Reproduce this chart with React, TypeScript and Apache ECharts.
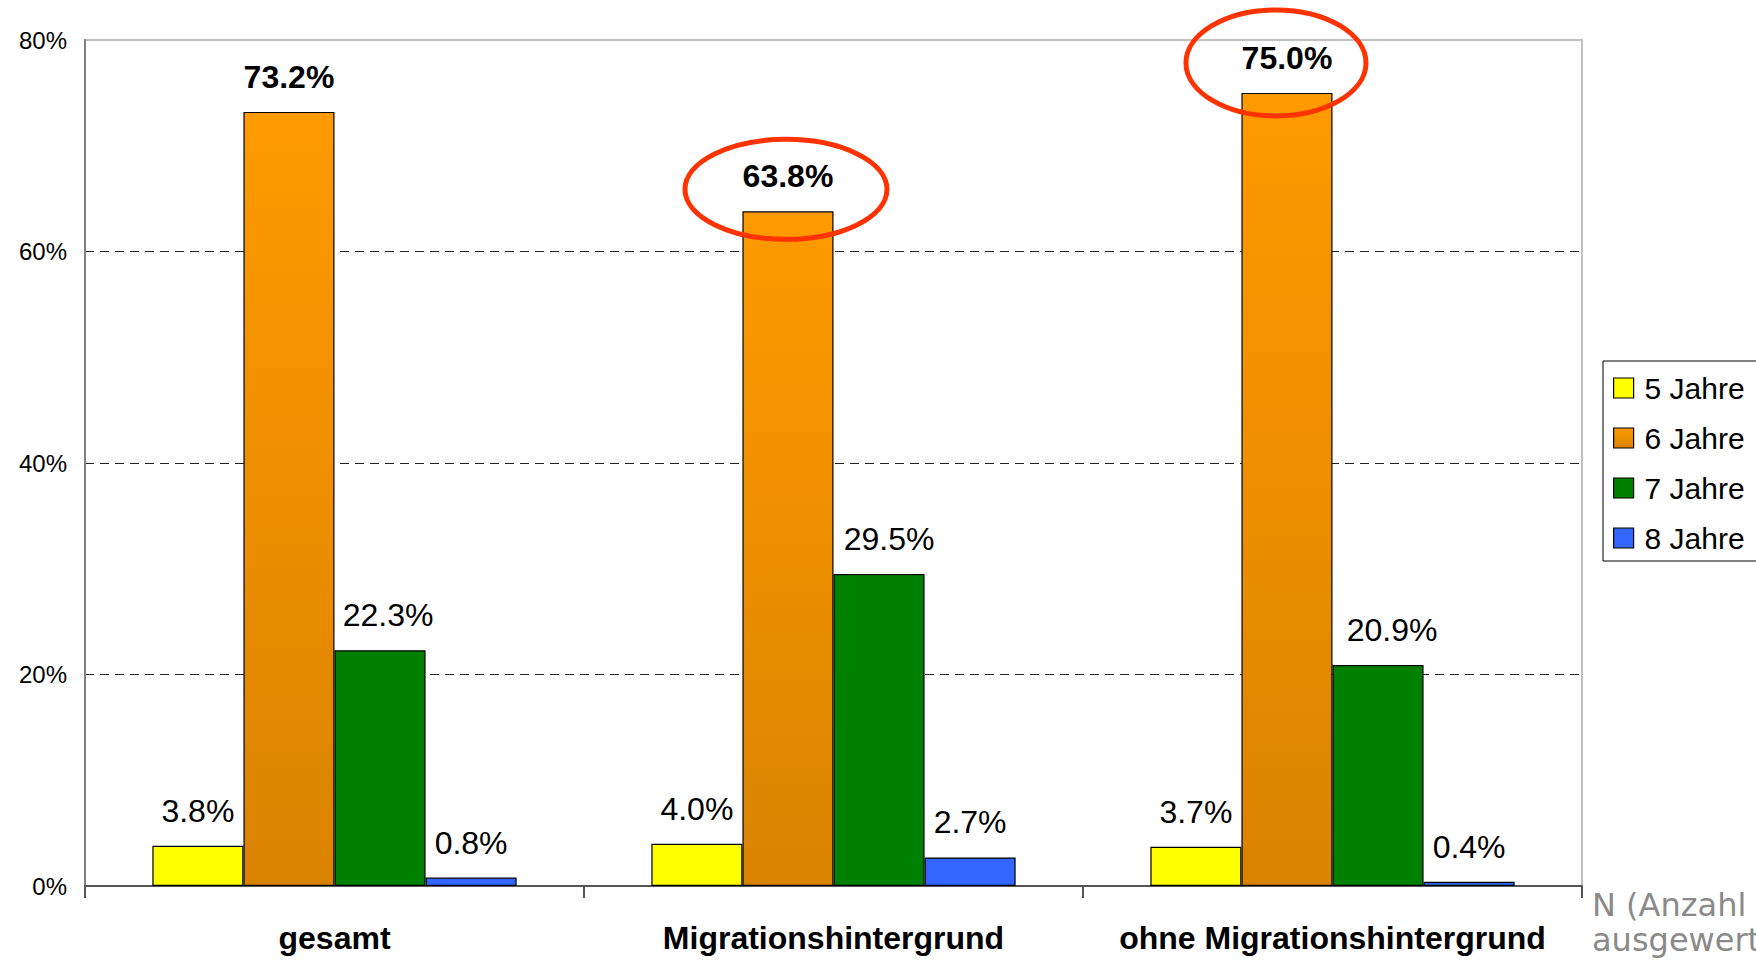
import React, { useEffect, useRef } from "react";
import * as echarts from "echarts";

const categories = ["gesamt", "Migrationshintergrund", "ohne Migrationshintergrund"];
const seriesNames = ["5 Jahre", "6 Jahre", "7 Jahre", "8 Jahre"];
const values5 = [3.8, 4.0, 3.7];
const values6 = [73.2, 63.8, 75.0];
const values7 = [22.3, 29.5, 20.9];
const values8 = [0.8, 2.7, 0.4];
const yMin = 0;
const yMax = 80;
const yStep = 20;
const noteText = "N (Anzahl\nausgewert";
// highlighted bars: [category index, series index]
const highlights = [
  { category: 1, series: 1 },
  { category: 2, series: 1 },
];

// label horizontal shifts per series (pixels), as in the original slide
const labelShifts = [
  [0, 0, 0],
  [0, 0, 0],
  [8, 10, 14],
  [0, 0, 0],
];

// annotation ellipse styling (offsets relative to the bar top)
const ellipseStyles = [
  { dx: -2, dy: -22, rx: 101, ry: 50 },
  { dx: -11, dy: -30, rx: 90, ry: 53 },
];

const FONT = "'Liberation Sans', Arial, sans-serif";
const GAP = 0.27;

export default function App() {
  const ref = useRef<HTMLDivElement>(null);

  useEffect(() => {
    document.body.style.margin = "0";
    if (!ref.current) return;
    const chart = echarts.init(ref.current, undefined, { renderer: "svg" });
    const allValues = [values5, values6, values7, values8];
    const orange = new echarts.graphic.LinearGradient(0, 0, 0, 1, [
      { offset: 0, color: "#ff9a00" },
      { offset: 1, color: "#da8300" },
    ]);
    const colors: any[] = ["#ffff00", orange, "#008000", "#3366ff"];

    const series = seriesNames.map((name, i) => ({
      name,
      type: "bar",
      data: allValues[i].map((v, j) => ({
        value: v,
        label: { offset: [labelShifts[i][j], 0] },
      })),
      barGap: "0%",
      barCategoryGap: GAP * 100 + "%",
      itemStyle: { color: colors[i], borderColor: "#000", borderWidth: 1.2 },
      label: {
        show: true,
        position: "top",
        distance: 19,
        fontFamily: FONT,
        fontSize: 32,
        fontWeight: i === 1 ? "bold" : "normal",
        color: "#000",
        formatter: (p: any) => Number(p.value).toFixed(1) + "%",
      },
      emphasis: { disabled: true },
    }));

    const gridLeft = 85;
    const gridRight = 174;
    chart.setOption({
      animation: false,
      grid: {
        left: gridLeft,
        right: gridRight,
        top: 40,
        bottom: 74,
        show: true,
        borderColor: "#c0c0c0",
        borderWidth: 2,
        backgroundColor: "#fff",
      },
      legend: {
        orient: "vertical",
        left: 1603,
        top: 361,
        itemWidth: 20,
        itemHeight: 20,
        itemGap: 20,
        padding: [12, 30, 8, 10],
        borderColor: "#000",
        borderWidth: 1,
        backgroundColor: "#fff",
        icon: "rect",
        itemStyle: { borderColor: "#000", borderWidth: 1.2 },
        textStyle: {
          fontFamily: FONT,
          fontSize: 30,
          color: "#000",
          padding: [0, 0, 0, 6],
        },
        data: seriesNames,
      },
      xAxis: {
        type: "category",
        data: categories,
        axisLine: { show: true, lineStyle: { color: "#555", width: 2 } },
        axisTick: { show: true, length: 12, lineStyle: { color: "#555", width: 2 } },
        axisLabel: {
          fontFamily: FONT,
          fontSize: 32,
          fontWeight: "bold",
          color: "#000",
          margin: 36,
          interval: 0,
        },
        splitLine: { show: false },
      },
      yAxis: {
        type: "value",
        min: yMin,
        max: yMax,
        interval: yStep,
        axisLine: { show: true, lineStyle: { color: "#808080", width: 2 } },
        axisTick: { show: false },
        axisLabel: {
          fontFamily: FONT,
          fontSize: 24,
          color: "#000",
          margin: 18,
          formatter: "{value}%",
        },
        splitLine: {
          show: true,
          lineStyle: {
            color: ["rgba(0,0,0,0)", "#222", "#222", "#222", "rgba(0,0,0,0)"],
            type: [9, 6],
            width: 1,
          },
        },
      },
      series,
    });

    const plotWidth = 1756 - gridLeft - gridRight;
    const band = plotWidth / categories.length;
    const barW = (band * (1 - GAP)) / seriesNames.length;
    const ellipses = highlights.map((h, k) => {
      const v = allValues[h.series][h.category];
      const pt = chart.convertToPixel({ gridIndex: 0 }, [h.category, v]) as number[];
      const cx = pt[0] + (h.series - (seriesNames.length - 1) / 2) * barW;
      const st = ellipseStyles[k];
      return {
        type: "ellipse",
        z: 100,
        shape: { cx: cx + st.dx, cy: pt[1] + st.dy, rx: st.rx, ry: st.ry },
        style: { fill: "none", stroke: "#ff3300", lineWidth: 5 },
      };
    });

    chart.setOption({
      graphic: [
        ...ellipses,
        {
          type: "text",
          left: 1592,
          top: 887,
          z: 100,
          style: {
            text: noteText,
            fontFamily: "'DejaVu Sans', Verdana, sans-serif",
            fontSize: 32,
            lineHeight: 35,
            fill: "#8a8a8a",
          },
        },
      ],
    });

    return () => chart.dispose();
  }, []);

  return (
    <div
      ref={ref}
      style={{ position: "absolute", left: 0, top: 0, width: 1756, height: 960, background: "#fff" }}
    />
  );
}
